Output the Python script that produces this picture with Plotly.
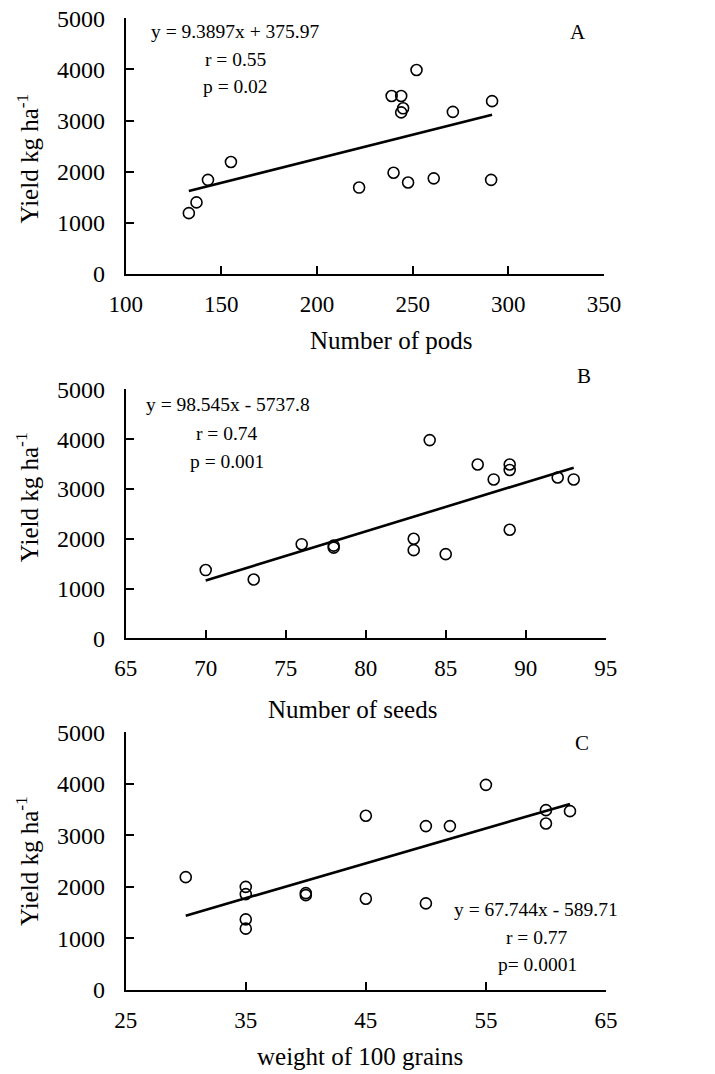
import plotly.graph_objects as go

# ---------------- data ----------------
pods = [133, 137, 143, 155, 222, 239, 240, 244, 245, 244, 247.6, 252, 261, 271, 291, 291.5]
yield_a = [1190, 1400, 1840, 2190, 1690, 3480, 1980, 3480, 3240, 3160, 1790, 3990, 1870, 3170, 1840, 3380]

seeds = [70, 73, 76, 78, 78, 83, 83, 84, 85, 87, 88, 89, 89, 89, 92, 93]
yield_b = [1370, 1180, 1890, 1860, 1820, 2000, 1770, 3980, 1690, 3490, 3190, 3490, 3380, 2180, 3230, 3190]

grains = [30, 35, 35, 35, 35, 40, 40, 45, 45, 50, 50, 52, 55, 60, 60, 62]
yield_c = [2190, 2000, 1860, 1370, 1190, 1880, 1840, 3380, 1770, 3180, 1680, 3180, 3980, 3490, 3230, 3470]

slopes = [9.3897, 98.545, 67.744]
intercepts = [375.97, -5737.8, -589.71]

panel_letters = ["A", "B", "C"]
equations = ["y = 9.3897x + 375.97", "y = 98.545x - 5737.8", "y = 67.744x - 589.71"]
r_texts = ["r = 0.55", "r = 0.74", "r = 0.77"]
p_texts = ["p = 0.02", "p = 0.001", "p= 0.0001"]
x_titles = ["Number of pods", "Number of seeds", "weight of 100 grains"]
y_title = "Yield kg ha<sup>-1</sup>"
x_ranges = [[100, 350], [65, 95], [25, 65]]
x_dticks = [50, 5, 10]
y_range = [0, 5000]

# ---------------- layout helpers ----------------
OFF = 8                      # page body margin
W, H = 715 - OFF, 1074 - OFF
FONT = "Liberation Serif, Times New Roman, serif"

def px(x):
    return (x - OFF) / W

def py(y):
    return 1 - (y - OFF) / H

# plot-area pixel boxes in page pixels (left, right, top, bottom)
boxes = [(125.7, 604.0, 18.3, 274.0),
         (125.7, 605.7, 389.3, 638.3),
         (125.7, 606.0, 732.3, 990.0)]

xs_all = [pods, seeds, grains]
ys_all = [yield_a, yield_b, yield_c]

fig = go.Figure()

for i in range(3):
    xa = "x" if i == 0 else f"x{i+1}"
    ya = "y" if i == 0 else f"y{i+1}"
    xs, ys = xs_all[i], ys_all[i]
    x0, x1 = min(xs), max(xs)
    fig.add_trace(go.Scatter(
        x=[x0, x1], y=[slopes[i] * x0 + intercepts[i], slopes[i] * x1 + intercepts[i]],
        mode="lines", line=dict(color="black", width=2.6),
        xaxis=xa, yaxis=ya, showlegend=False, hoverinfo="skip"))
    fig.add_trace(go.Scatter(
        x=xs, y=ys, mode="markers",
        marker=dict(symbol="circle-open", size=11, color="black", line=dict(width=1.6)),
        xaxis=xa, yaxis=ya, showlegend=False))

axis_common = dict(
    showline=True, linecolor="black", linewidth=2,
    ticks="inside", ticklen=8, tickwidth=2, tickcolor="black",
    showgrid=False, zeroline=False, mirror=False, automargin=False,
    ticklabeloverflow="allow",
    tickfont=dict(family=FONT, size=23, color="black"),
)

layout = dict(
    width=W, height=H, autosize=False,
    margin=dict(l=0, r=0, t=0, b=0, pad=0, autoexpand=False),
    paper_bgcolor="white", plot_bgcolor="white",
    font=dict(family=FONT, color="black"),
    showlegend=False,
)

annotations = []
# text positions (page pixel centres) per panel
letter_pos = [(577.5, 31.7), (584.0, 376.0), (582.0, 743.3)]
eq_pos = [(235.0, 31.7), (227.5, 405.0), (536.3, 909.0)]
r_pos = [(235.0, 59.5), (227.0, 434.0), (537.0, 937.0)]
p_pos = [(235.0, 87.0), (227.0, 461.0), (537.7, 964.0)]
xt_pos = [(391.0, 340.0), (352.5, 709.3), (360.0, 1056.7)]
yt_pos = [(27.5, 159.0), (26.7, 497.5), (27.0, 861.0)]

for i in range(3):
    l, r, t, b = boxes[i]
    xk = "xaxis" if i == 0 else f"xaxis{i+1}"
    yk = "yaxis" if i == 0 else f"yaxis{i+1}"
    ya = "y" if i == 0 else f"y{i+1}"
    xa = "x" if i == 0 else f"x{i+1}"
    layout[xk] = dict(axis_common, domain=[px(l), px(r)], range=x_ranges[i],
                      tick0=x_ranges[i][0], dtick=x_dticks[i], anchor=ya,
                      ticklabelstandoff=8)
    layout[yk] = dict(axis_common, domain=[py(b), py(t)], range=y_range,
                      tick0=0, dtick=1000, anchor=xa, ticklabelstandoff=14,
                      tickfont=dict(family=FONT, size=24, color="black"))

    def add(text, pos, size, angle=0):
        annotations.append(dict(
            text=text, x=px(pos[0]), y=py(pos[1]), xref="paper", yref="paper",
            xanchor="center", yanchor="middle", showarrow=False, textangle=angle,
            font=dict(family=FONT, size=size, color="black")))

    add(panel_letters[i], letter_pos[i], 21)
    add(equations[i], eq_pos[i], 19.5)
    add(r_texts[i], r_pos[i], 19.5)
    add(p_texts[i], p_pos[i], 19.5)
    add(x_titles[i], xt_pos[i], 25)
    add(y_title, yt_pos[i], 25, angle=-90)

layout["annotations"] = annotations
fig.update_layout(**layout)

fig.write_html("out.html")
